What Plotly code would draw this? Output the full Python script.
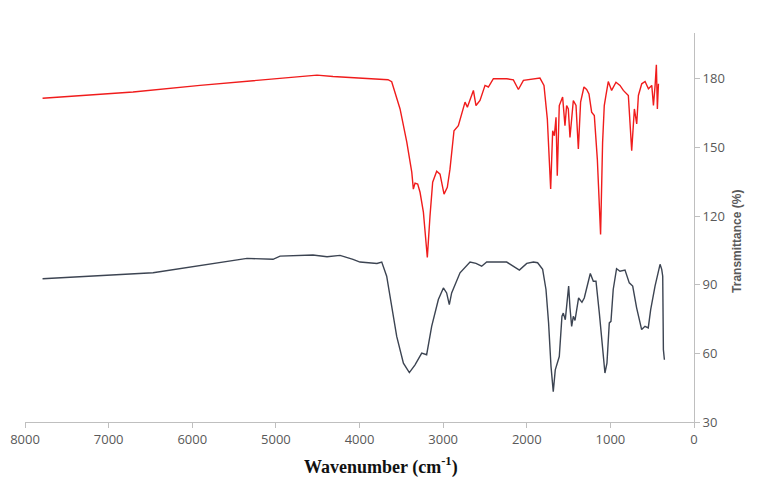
import plotly.graph_objects as go

# Upper spectrum (red)
red_wn = [7790, 6708, 5907, 4914, 4556, 4508, 4317, 3994, 3719, 3659, 3615, 3515, 3435, 3375, 3356, 3336,
          3304, 3276, 3236, 3189, 3157, 3125, 3077, 3037, 2989, 2950, 2918, 2870, 2818, 2778, 2738,
          2710, 2686, 2638, 2607, 2559, 2499, 2459, 2399, 2240, 2160, 2100, 2040, 1920, 1842, 1794,
          1754, 1714, 1690, 1670, 1650, 1635, 1611, 1571, 1543, 1523, 1503, 1483, 1443, 1411, 1383,
          1356, 1316, 1284, 1256, 1224, 1192, 1156, 1117, 1093, 1073, 1053, 1025, 985, 933, 885,
          845, 785, 745, 713, 685, 665, 625, 585, 545, 505, 485, 465, 450, 438, 425]
red_t = [171.5, 174.2, 177.1, 180.4, 181.7, 181.6, 181.0, 180.3, 180.0, 179.6, 178.7, 166.8, 152.4, 139.2, 131.8, 134.4,
         134.0, 130.4, 121.7, 101.9, 120.0, 134.8, 139.6, 138.3, 129.6, 132.6, 140.5, 157.3, 159.5, 164.6, 169.8,
         167.6, 170.0, 174.9, 168.3, 170.5, 177.1, 176.4, 180.0, 180.0, 179.5, 175.3, 179.3, 180.0, 180.3, 177.1,
         162.5, 131.8, 157.3, 155.1, 163.2, 137.6, 168.3, 172.0, 159.5, 168.3, 166.8, 154.4, 170.5, 168.3, 149.3,
         169.8, 176.4, 175.3, 173.4, 165.4, 163.9, 144.9, 112.0, 152.2, 168.3, 172.7, 178.8, 174.9, 178.5, 177.1,
         174.9, 172.7, 148.6, 166.8, 160.3, 172.7, 177.8, 178.8, 175.6, 177.1, 168.3, 177.1, 186.1, 166.8, 177.8]

# Lower spectrum (dark grey)
grey_wn = [7790, 6469, 5345, 5034, 4950, 4556, 4388, 4233, 4078, 3994, 3791, 3734, 3675, 3615, 3555, 3475,
           3404, 3336, 3256, 3197, 3137, 3057, 2997, 2958, 2926, 2898, 2838, 2798, 2678, 2607, 2539,
           2479, 2240, 2160, 2088, 2000, 1920, 1870, 1810, 1770, 1739, 1710, 1683, 1659, 1643, 1611,
           1579, 1563, 1539, 1499, 1483, 1463, 1443, 1423, 1380, 1340, 1312, 1272, 1240, 1204, 1172,
           1132, 1093, 1065, 1041, 1013, 993, 966, 926, 885, 825, 774, 733, 686, 626, 586, 547, 518,
           466, 406, 386, 374, 366, 354]
grey_t = [92.6, 95.2, 101.5, 101.1, 102.5, 103.0, 102.2, 102.8, 101.1, 99.9, 99.3, 99.9, 93.7, 80.6, 67.4, 55.7,
          51.6, 55.0, 60.1, 59.4, 71.8, 83.5, 88.6, 86.4, 81.3, 86.4, 91.5, 95.2, 99.9, 99.3, 98.1,
          99.9, 99.9, 98.1, 96.4, 99.3, 99.9, 99.6, 96.7, 87.9, 73.3, 54.3, 43.3, 52.8, 55.0, 58.6,
          76.2, 77.6, 74.7, 89.4, 79.9, 71.8, 76.2, 74.4, 84.2, 82.3, 84.2, 90.8, 94.9, 91.5, 91.5,
          77.6, 61.6, 51.4, 55.7, 73.3, 74.0, 87.9, 97.0, 95.9, 96.4, 90.8, 89.4, 79.9, 70.4, 71.8, 71.1, 79.1,
          89.4, 98.9, 96.7, 93.7, 61.6, 57.2]

x_ticks = [8000, 7000, 6000, 5000, 4000, 3000, 2000, 1000, 0]
y_ticks = [30, 60, 90, 120, 150, 180]

fig = go.Figure()
fig.add_trace(go.Scatter(x=red_wn, y=red_t, mode="lines",
                         line=dict(color="#f01c1c", width=1.4), showlegend=False))
fig.add_trace(go.Scatter(x=grey_wn, y=grey_t, mode="lines",
                         line=dict(color="#3c4452", width=1.4), showlegend=False))

fig.update_layout(
    width=757, height=485,
    margin=dict(l=17, r=71, t=25, b=71),
    plot_bgcolor="white", paper_bgcolor="white",
    font=dict(family="Open Sans, Liberation Sans, sans-serif", size=13, color="#595959"),
    xaxis=dict(range=[8000, 0], tickvals=x_ticks, ticks="outside", ticklen=5, automargin=False,
               tickcolor="#bfbfbf", showline=True, linecolor="#bfbfbf", linewidth=1,
               showgrid=False, zeroline=False, tickfont=dict(size=13, color="#595959")),
    yaxis=dict(range=[30, 200], tickvals=y_ticks, side="right", ticks="outside", ticklen=5, automargin=False,
               tickcolor="#bfbfbf", showline=True, linecolor="#bfbfbf", linewidth=1,
               showgrid=False, zeroline=False, tickfont=dict(size=13, color="#595959")),
    annotations=[
        dict(text="<b>Wavenumber (cm<sup>-1</sup>)</b>", x=0.532, y=-0.113, xref="paper", yref="paper",
             showarrow=False, font=dict(family="Liberation Serif, serif", size=18, color="#111111"),
             xanchor="center", yanchor="middle"),
        dict(text="<b>Transmittance (%)</b>", x=1.064, y=0.465, xref="paper", yref="paper",
             showarrow=False, textangle=-90, font=dict(family="Liberation Sans, sans-serif", size=12, color="#595959"),
             xanchor="center", yanchor="middle"),
    ],
)

fig.write_html("out.html")
